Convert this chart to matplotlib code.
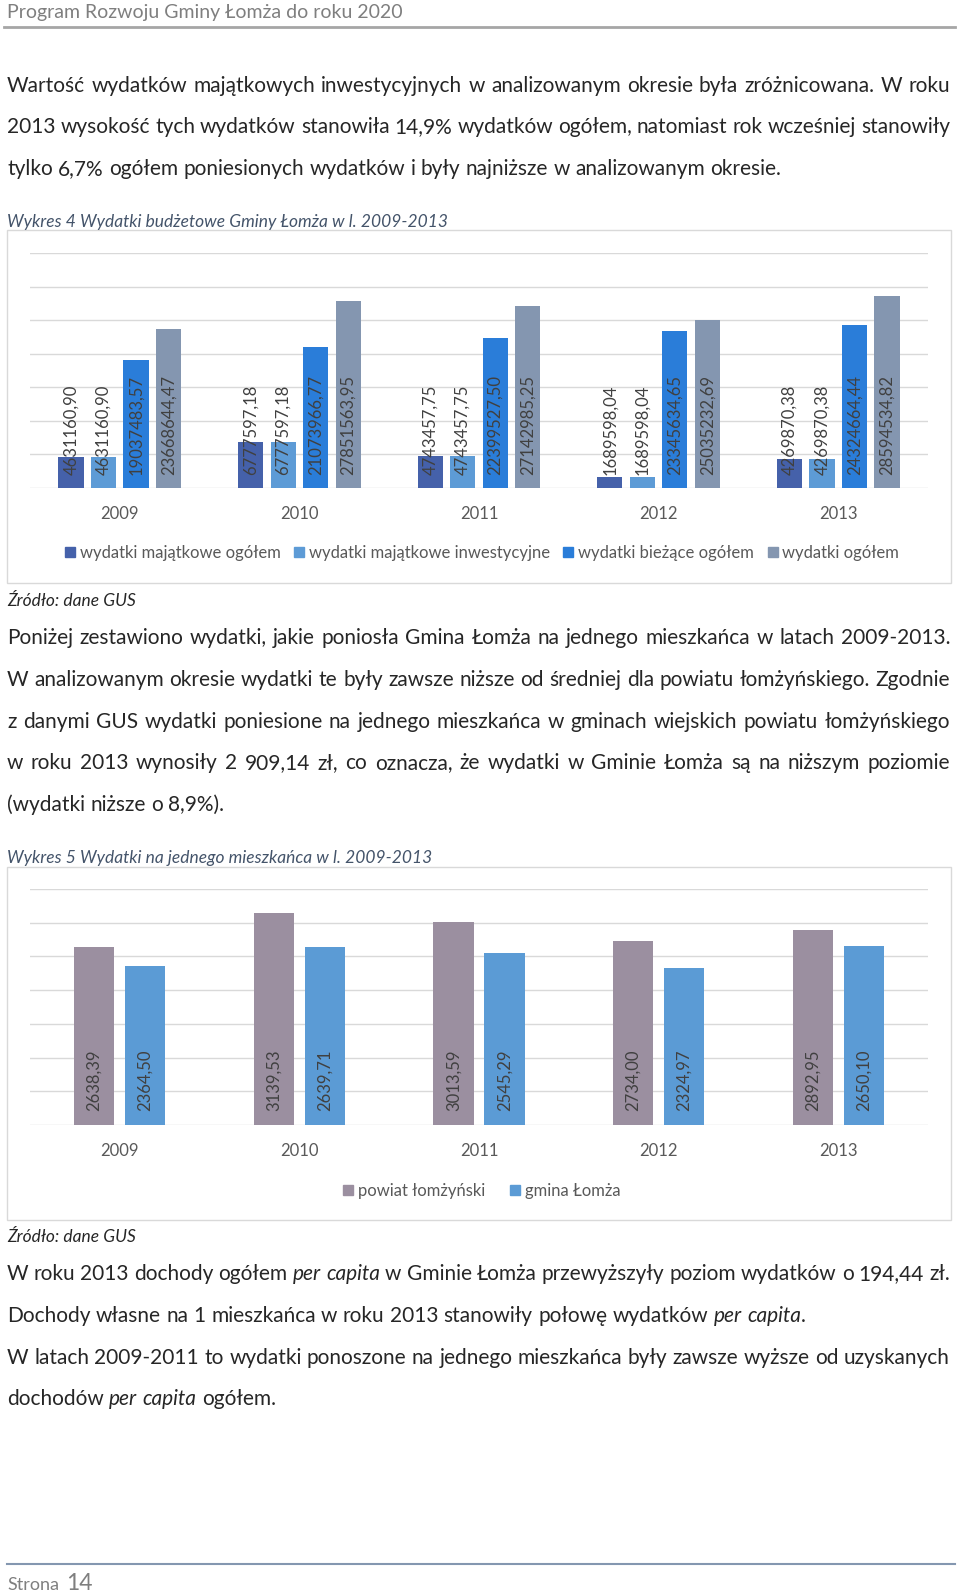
import matplotlib
matplotlib.use("Agg")
import matplotlib.pyplot as plt
import numpy as np
from matplotlib.patches import Rectangle, Patch

plt.rcParams['font.family'] = ['Lato', 'DejaVu Sans']

W, H = 960, 1595

years = ["2009", "2010", "2011", "2012", "2013"]

# Wykres 4 - wydatki budzetowe (zl)
maj_ogolem = [4631160.90, 6777597.18, 4743457.75, 1689598.04, 4269870.38]
maj_inwest = [4631160.90, 6777597.18, 4743457.75, 1689598.04, 4269870.38]
biezace = [19037483.57, 21073966.77, 22399527.50, 23345634.65, 24324664.44]
ogolem = [23668644.47, 27851563.95, 27142985.25, 25035232.69, 28594534.82]
names4 = ["wydatki majątkowe ogółem", "wydatki majątkowe inwestycyjne",
          "wydatki bieżące ogółem", "wydatki ogółem"]
colors4 = ["#4561aa", "#5d9bd6", "#2a7dd9", "#8496b0"]

# Wykres 5 - wydatki na mieszkanca (zl)
powiat = [2638.39, 3139.53, 3013.59, 2734.00, 2892.95]
gmina = [2364.50, 2639.71, 2545.29, 2324.97, 2650.10]
names5 = ["powiat łomżyński", "gmina Łomża"]
colors5 = ["#9b8fa0", "#5b9bd5"]

TXT = "#262626"
GRAY = "#595959"

fig = plt.figure(figsize=(W / 100, H / 100), dpi=100)
page = fig.add_axes([0, 0, 1, 1])
page.set_xlim(0, W)
page.set_ylim(H, 0)
page.axis("off")
fig.canvas.draw()
rend = fig.canvas.get_renderer()


def tw(s, **kw):
    t = page.text(0, 0, s, **kw)
    w = t.get_window_extent(rend).width
    t.remove()
    return w


def tokens_of(segs):
    toks = []
    pending = False
    for seg in segs:
        if isinstance(seg, str):
            txt, it = seg, False
        else:
            txt, it = seg
        for i, p in enumerate(txt.split(" ")):
            if i > 0:
                pending = True
            if p:
                toks.append([p, it, pending and bool(toks)])
                pending = False
    # group glued tokens into words
    words = []
    for p, it, sep in toks:
        if sep or not words:
            words.append([(p, it)])
        else:
            words[-1].append((p, it))
    return words


def body_line(y, segs, size, justify=False, x0=7, x1=950, color=TXT):
    words = tokens_of(segs)
    kw = dict(fontsize=size)
    wsz = [[tw(p, fontstyle="italic" if it else "normal", **kw) for p, it in wd] for wd in words]
    total = sum(sum(a) for a in wsz)
    if justify and len(words) > 1:
        gap = (x1 - x0 - total) / (len(words) - 1)
    else:
        gap = tw("a a", **kw) - tw("aa", **kw)
    x = x0
    for wd, ws in zip(words, wsz):
        for (p, it), w in zip(wd, ws):
            page.text(x, y, p, fontstyle="italic" if it else "normal", color=color,
                      va="baseline", ha="left", **kw)
            x += w
        x += gap


BODY = 15.0
LS = 41.6

# header
page.text(7, 18, "Program Rozwoju Gminy Łomża do roku 2020", fontsize=14,
          color="#7f7f7f", va="baseline")
page.plot([4, 955], [27, 27], color="#a6a6a6", lw=2)

# paragraph 1
y = 91.5
body_line(y, ["Wartość wydatków majątkowych inwestycyjnych w analizowanym okresie była zróżnicowana. W roku"], BODY, True)
body_line(y + LS, ["2013 wysokość tych wydatków stanowiła 14,9% wydatków ogółem, natomiast rok wcześniej stanowiły"], BODY, True)
body_line(y + 2 * LS, ["tylko 6,7% ogółem poniesionych wydatków i były najniższe w analizowanym okresie."], BODY)

page.text(7, 227.5, "Wykres 4 Wydatki budżetowe Gminy Łomża w l. 2009-2013", fontsize=12.5,
          fontstyle="italic", color="#44546a", va="baseline")
page.add_patch(Rectangle((7, 230), 944, 353, fill=False, edgecolor="#d9d9d9", lw=1))
page.text(7, 605.5, "Źródło: dane GUS", fontsize=12.5, fontstyle="italic", color=TXT, va="baseline")

# paragraph 2
y = 644.5
body_line(y, ["Poniżej zestawiono wydatki, jakie poniosła Gmina Łomża na jednego mieszkańca w latach 2009-2013."], BODY, True)
body_line(y + LS, ["W analizowanym okresie wydatki te były zawsze niższe od średniej dla powiatu łomżyńskiego. Zgodnie"], BODY, True)
body_line(y + 2 * LS, ["z danymi GUS wydatki poniesione na jednego mieszkańca w gminach wiejskich powiatu łomżyńskiego"], BODY, True)
body_line(y + 3 * LS, ["w roku 2013 wynosiły 2 909,14 zł, co oznacza, że wydatki w Gminie Łomża są na niższym poziomie"], BODY, True)
body_line(y + 4 * LS, ["(wydatki niższe o 8,9%)."], BODY)

page.text(7, 863, "Wykres 5 Wydatki na jednego mieszkańca w l. 2009-2013", fontsize=12.5,
          fontstyle="italic", color="#44546a", va="baseline")
page.add_patch(Rectangle((7, 867), 944, 353, fill=False, edgecolor="#d9d9d9", lw=1))
page.text(7, 1241.5, "Źródło: dane GUS", fontsize=12.5, fontstyle="italic", color=TXT, va="baseline")

# paragraph 3
y = 1280.5
body_line(y, ["W roku 2013 dochody ogółem ", ("per capita", True), " w Gminie Łomża przewyższyły poziom wydatków o 194,44 zł."], BODY, True)
body_line(y + LS, ["Dochody własne na 1 mieszkańca w roku 2013 stanowiły połowę wydatków ", ("per capita", True), "."], BODY)
body_line(y + 2 * LS, ["W  latach 2009-2011 to wydatki ponoszone na jednego mieszkańca były zawsze wyższe od uzyskanych"], BODY, True)
body_line(y + 3 * LS, ["dochodów ", ("per capita", True), " ogółem."], BODY)

# footer
page.plot([7, 955], [1564, 1564], color="#8497b0", lw=1.5)
page.text(7, 1590, "Strona", fontsize=13, color="#7f7f7f", va="baseline")
page.text(66, 1590, "14", fontsize=16.5, color="#7f7f7f", va="baseline")


def px_axes(x0, y0, x1, y1):
    return fig.add_axes([x0 / W, 1 - y1 / H, (x1 - x0) / W, (y1 - y0) / H])


def style_axes(ax, ymax, step):
    ax.set_facecolor("none")
    ax.set_xlim(-0.5, 4.5)
    ax.set_ylim(0, ymax)
    ax.set_yticks(np.arange(0, ymax + step / 2, step))
    ax.yaxis.grid(True, color="#d9d9d9", lw=1)
    ax.set_axisbelow(True)
    ax.tick_params(axis="y", left=False, labelleft=False)
    ax.tick_params(axis="x", length=0, pad=13, labelsize=12, labelcolor=GRAY)
    for s in ax.spines.values():
        s.set_visible(False)
    ax.set_xticks(range(5))
    ax.set_xticklabels(years)


def fmt(v):
    return f"{v:.2f}".replace(".", ",")


x = np.arange(5)

# Wykres 4
ax1 = px_axes(30, 253, 928, 488)
style_axes(ax1, 35e6, 5e6)
step, bw = 0.181, 0.14
for i, (vals, c) in enumerate(zip([maj_ogolem, maj_inwest, biezace, ogolem], colors4)):
    xs = x + (i - 1.5) * step
    ax1.bar(xs, vals, width=bw, color=c, zorder=2)
    for xi, v in zip(xs, vals):
        ax1.annotate(fmt(v), (xi, 0), xytext=(0, 9.5), textcoords="offset points",
                     rotation=90, ha="center", va="bottom", fontsize=12, color="#404040", zorder=3)
fig.legend([Patch(color=c) for c in colors4], names4, loc="center",
           bbox_to_anchor=(482 / W, 1 - 553 / H), ncol=4, frameon=False,
           handlelength=0.6, handleheight=0.6, handletextpad=0.3, columnspacing=0.8,
           fontsize=12, labelcolor=GRAY)

# Wykres 5
ax2 = px_axes(30, 889, 928, 1125)
style_axes(ax2, 3500, 500)
step, bw = 0.284, 0.223
for i, (vals, c) in enumerate(zip([powiat, gmina], colors5)):
    xs = x + (i - 0.5) * step
    ax2.bar(xs, vals, width=bw, color=c, zorder=2)
    for xi, v in zip(xs, vals):
        ax2.annotate(fmt(v), (xi, 0), xytext=(0, 10), textcoords="offset points",
                     rotation=90, ha="center", va="bottom", fontsize=12, color="#404040", zorder=3)
fig.legend([Patch(color=c) for c in colors5], names5, loc="center",
           bbox_to_anchor=(482 / W, 1 - 1191 / H), ncol=2, frameon=False,
           handlelength=0.6, handleheight=0.6, handletextpad=0.3, columnspacing=1.5,
           fontsize=12, labelcolor=GRAY)

fig.savefig("out.png", dpi=100, facecolor="white")
